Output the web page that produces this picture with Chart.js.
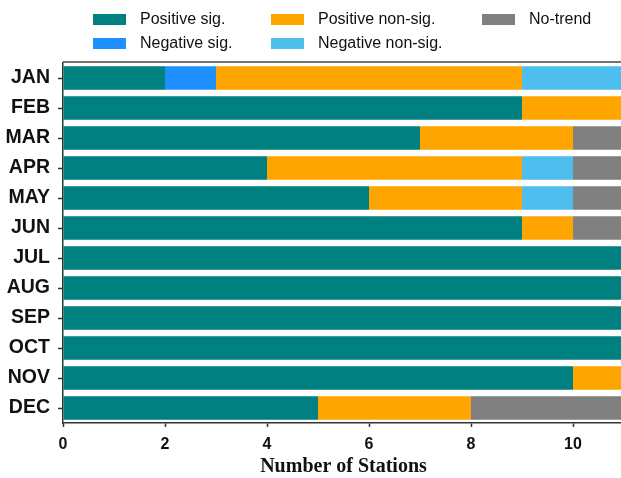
<!DOCTYPE html>
<html>
<head>
<meta charset="utf-8">
<script src="https://cdn.jsdelivr.net/npm/chart.js@4.4.1/dist/chart.umd.min.js"></script>
<style>
  html, body { margin: 0; padding: 0; background: #fff; overflow: hidden; }
  #wrap { position: relative; width: 630px; height: 478px; }
  #legend { position: absolute; left: 0; top: 0; font: 16px "Liberation Sans", Arial, sans-serif; color: #111; }
  .item { position: absolute; display: flex; align-items: center; white-space: nowrap; height: 20px; }
  .sw { width: 33px; height: 11px; margin-right: 14px; }
</style>
</head>
<body>
<div id="wrap">
  <canvas id="c" width="630" height="478"></canvas>
  <div id="legend"></div>
</div>
<script>
// Monthly trend classification of stations
const months = ['JAN', 'FEB', 'MAR', 'APR', 'MAY', 'JUN', 'JUL', 'AUG', 'SEP', 'OCT', 'NOV', 'DEC'];
const positiveSig    = [2, 9, 7, 4, 6, 9, 11, 11, 11, 11, 10, 5];
const negativeSig    = [1, 0, 0, 0, 0, 0, 0, 0, 0, 0, 0, 0];
const positiveNonSig = [6, 2, 3, 5, 3, 1, 0, 0, 0, 0, 1, 3];
const negativeNonSig = [2, 0, 0, 1, 1, 0, 0, 0, 0, 0, 0, 0];
const noTrend        = [0, 0, 1, 1, 1, 1, 0, 0, 0, 0, 0, 3];
const xTicks = [0, 2, 4, 6, 8, 10];

const series = [
  { label: 'Positive sig.',     data: positiveSig,    color: '#008080' },
  { label: 'Negative sig.',     data: negativeSig,    color: '#1E90FF' },
  { label: 'Positive non-sig.', data: positiveNonSig, color: '#FFA500' },
  { label: 'Negative non-sig.', data: negativeNonSig, color: '#4DBEEE' },
  { label: 'No-trend',          data: noTrend,        color: '#808080' }
];

// Legend laid out in columns: [left, top] of each entry
const legendSlots = {
  'Positive sig.':     [93, 9],
  'Negative sig.':     [93, 33],
  'Positive non-sig.': [271, 9],
  'Negative non-sig.': [271, 33],
  'No-trend':          [482, 9]
};
const legendEl = document.getElementById('legend');
series.forEach(s => {
  const [lx, ly] = legendSlots[s.label];
  const it = document.createElement('div');
  it.className = 'item';
  it.style.left = lx + 'px';
  it.style.top = ly + 'px';
  const sw = document.createElement('span');
  sw.className = 'sw';
  sw.style.background = s.color;
  const tx = document.createElement('span');
  tx.textContent = s.label;
  it.appendChild(sw);
  it.appendChild(tx);
  legendEl.appendChild(it);
});

// Top frame line of the plot area
const topFrame = {
  id: 'topFrame',
  afterDraw(chart) {
    const { ctx, chartArea } = chart;
    ctx.save();
    ctx.strokeStyle = '#444';
    ctx.lineWidth = 1.5;
    ctx.beginPath();
    ctx.moveTo(chartArea.left, chartArea.top - 1);
    ctx.lineTo(chartArea.right, chartArea.top - 1);
    ctx.stroke();
    ctx.restore();
  }
};

const tickFont = { family: '"Liberation Sans", Arial, sans-serif', weight: 'bold' };

new Chart(document.getElementById('c'), {
  type: 'bar',
  data: {
    labels: months,
    datasets: series.map(s => ({
      label: s.label,
      data: s.data,
      backgroundColor: s.color,
      borderWidth: 0,
      barPercentage: 0.78,
      categoryPercentage: 1.0
    }))
  },
  options: {
    indexAxis: 'y',
    responsive: false,
    animation: false,
    layout: { padding: { top: 63, right: 6, left: 0, bottom: 0 } },
    plugins: { legend: { display: false }, tooltip: { enabled: false } },
    scales: {
      x: {
        stacked: true,
        min: 0,
        max: 11,
        afterBuildTicks(scale) {
          scale.ticks = xTicks.map(v => ({ value: v }));
        },
        afterFit(scale) { scale.height = 55; },
        ticks: { font: { ...tickFont, size: 16 }, color: '#111', padding: 8 },
        grid: { drawOnChartArea: false, drawTicks: true, tickLength: 4, tickColor: '#333', tickWidth: 1.5 },
        border: { color: '#333', width: 1.5 },
        title: {
          display: true,
          text: 'Number of Stations',
          font: { family: '"Liberation Serif", "Times New Roman", serif', size: 20, weight: 'bold' },
          color: '#111',
          padding: { top: 0, bottom: -1 }
        }
      },
      y: {
        stacked: true,
        afterFit(scale) { scale.width = 63; },
        ticks: { font: { ...tickFont, size: 19.5 }, color: '#111', padding: 8 },
        grid: { offset: false, drawOnChartArea: false, drawTicks: true, tickLength: 5, tickColor: '#333', tickWidth: 1.5 },
        border: { color: '#333', width: 1.5 }
      }
    }
  },
  plugins: [topFrame]
});
</script>
</body>
</html>
